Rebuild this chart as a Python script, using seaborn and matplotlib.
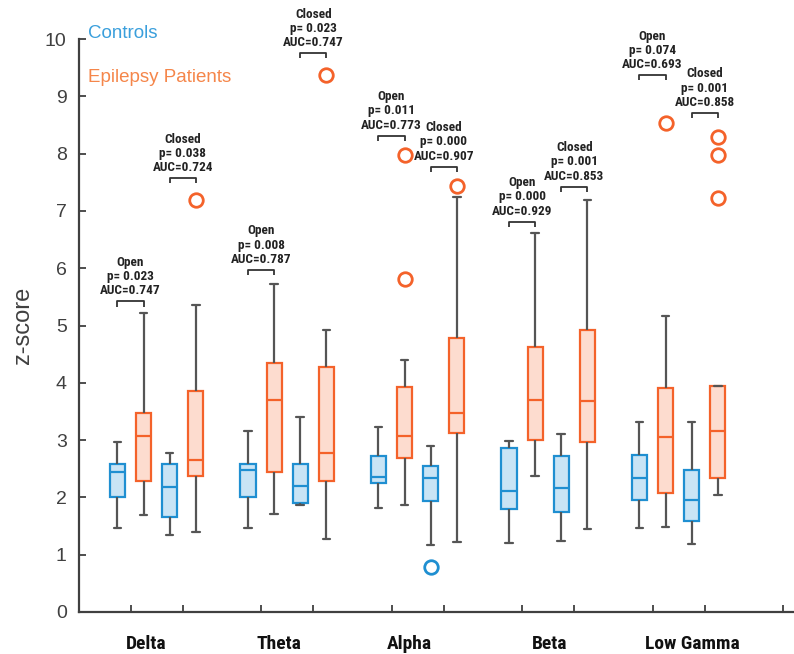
import numpy as np
import pandas as pd
import matplotlib
matplotlib.use("Agg")
import matplotlib.pyplot as plt
from matplotlib import font_manager
import seaborn as sns

# ---------------- data ----------------
bands = ["Delta", "Theta", "Alpha", "Beta", "Low Gamma"]

# five-number summaries per band: [low whisker, q1, median, q3, high whisker]
ctrl_open = [[1.46, 2.01, 2.45, 2.58, 2.96],
             [1.47, 2.00, 2.47, 2.58, 3.16],
             [1.82, 2.25, 2.36, 2.73, 3.23],
             [1.20, 1.79, 2.11, 2.87, 2.99],
             [1.46, 1.95, 2.34, 2.74, 3.31]]
pat_open = [[1.69, 2.29, 3.07, 3.47, 5.21],
            [1.71, 2.45, 3.70, 4.34, 5.72],
            [1.87, 2.69, 3.08, 3.93, 4.40],
            [2.37, 3.01, 3.70, 4.63, 6.61],
            [1.49, 2.07, 3.06, 3.91, 5.16]]
ctrl_closed = [[1.34, 1.66, 2.19, 2.58, 2.77],
               [1.86, 1.90, 2.20, 2.58, 3.41],
               [1.17, 1.93, 2.33, 2.55, 2.90],
               [1.24, 1.75, 2.17, 2.72, 3.11],
               [1.19, 1.58, 1.95, 2.48, 3.31]]
pat_closed = [[1.40, 2.37, 2.66, 3.86, 5.36],
              [1.27, 2.28, 2.78, 4.28, 4.93],
              [1.23, 3.12, 3.47, 4.79, 7.25],
              [1.44, 2.96, 3.69, 4.92, 7.19],
              [2.04, 2.33, 3.16, 3.94, 3.94]]

outlier_band = ["Alpha", "Alpha", "Alpha", "Low Gamma",
                "Delta", "Theta", "Alpha", "Low Gamma", "Low Gamma", "Low Gamma"]
outlier_series = ["ctrl_closed", "pat_open", "pat_open", "pat_open",
                  "pat_closed", "pat_closed", "pat_closed", "pat_closed", "pat_closed", "pat_closed"]
outlier_value = [0.79, 7.98, 5.82, 8.53, 7.19, 9.37, 7.43, 8.29, 7.97, 7.23]

open_p = ["0.023", "0.008", "0.011", "0.000", "0.074"]
open_auc = ["0.747", "0.787", "0.773", "0.929", "0.693"]
closed_p = ["0.038", "0.023", "0.000", "0.001", "0.001"]
closed_auc = ["0.724", "0.747", "0.907", "0.853", "0.858"]
open_bracket = [5.42, 5.97, 8.31, 6.81, 9.37]
closed_bracket = [7.57, 9.75, 7.77, 7.42, 8.71]

# ---------------- styling ----------------
BLUE_EDGE = "#1f8fd1"
BLUE_FILL = "#c9e4f5"
ORANGE_EDGE = "#f4622a"
ORANGE_FILL = "#fddccf"
WHISK = "#555555"
AXCOL = "#404040"

available = {f.name for f in font_manager.fontManager.ttflist}
narrow_cands = [n for n in ["Liberation Sans Narrow", "Arial Narrow", "Roboto Condensed",
                            "Open Sans Condensed", "DejaVu Sans Condensed"] if n in available]
narrow_cands += sorted(n for n in available if ("Narrow" in n or "Condensed" in n) and n not in narrow_cands)
narrow = narrow_cands[0] if narrow_cands else None
base = "Liberation Sans" if "Liberation Sans" in available else "DejaVu Sans"
is_narrow = narrow is not None and ("Narrow" in narrow or "Condensed" in narrow) and "DejaVu" not in narrow
ann_family = [narrow, "DejaVu Sans"] if is_narrow else [base, "DejaVu Sans"]
ann_size = 9.5 if is_narrow else 8.2
lab_size = 14 if is_narrow else 12.5

sns.set_style("white")
plt.rcParams["font.family"] = [base, "DejaVu Sans"]

series_order = ["ctrl_open", "pat_open", "ctrl_closed", "pat_closed"]
series_data = {"ctrl_open": ctrl_open, "pat_open": pat_open,
               "ctrl_closed": ctrl_closed, "pat_closed": pat_closed}
GROUP_STEP = 5

def pos(band, series):
    return bands.index(band) * GROUP_STEP + series_order.index(series)

rows = []
for s in series_order:
    for b, vals in zip(bands, series_data[s]):
        for v in vals:
            rows.append({"band": b, "series": s, "pos": pos(b, s), "value": v})
df = pd.DataFrame(rows)
df["group"] = np.where(df["series"].str.startswith("ctrl"), "Controls", "Patients")

out_df = pd.DataFrame({"band": outlier_band, "series": outlier_series, "value": outlier_value})
out_df["pos"] = [pos(b, s) for b, s in zip(out_df["band"], out_df["series"])]
out_df["group"] = np.where(out_df["series"].str.startswith("ctrl"), "Controls", "Patients")

fig = plt.figure(figsize=(7.94, 6.54), dpi=100)
ax = fig.add_axes([78.5 / 794, 1 - 612 / 654, 1 - 78.5 / 794, (612 - 39) / 654])

for grp, fc, ec in [("Controls", BLUE_FILL, BLUE_EDGE), ("Patients", ORANGE_FILL, ORANGE_EDGE)]:
    sub = df[df["group"] == grp]
    sns.boxplot(data=sub, x="pos", y="value", orient="x", native_scale=True,
                width=0.29, whis=(0, 100), color=fc, linecolor=ec, linewidth=1.6,
                showfliers=False, ax=ax,
                boxprops=dict(facecolor=fc, edgecolor=ec, linewidth=1.6),
                medianprops=dict(color=ec, linewidth=1.6),
                whiskerprops=dict(color=WHISK, linewidth=1.6),
                capprops=dict(color=WHISK, linewidth=1.6))
    osub = out_df[out_df["group"] == grp]
    sns.scatterplot(data=osub, x="pos", y="value", marker="o", s=95,
                    facecolor="white", edgecolor=ec, linewidth=2.0, ax=ax,
                    zorder=5, clip_on=False, legend=False)

# significance brackets and labels
leg = 0.09
for i, b in enumerate(bands):
    for cond, lvl, p, auc, (s1, s2) in [
        ("Open", open_bracket[i], open_p[i], open_auc[i], ("ctrl_open", "pat_open")),
        ("Closed", closed_bracket[i], closed_p[i], closed_auc[i], ("ctrl_closed", "pat_closed")),
    ]:
        x1, x2 = pos(b, s1), pos(b, s2)
        ax.plot([x1, x1, x2, x2], [lvl - leg, lvl, lvl, lvl - leg], color="#333333",
                lw=1.3, clip_on=False, solid_capstyle="butt")
        ax.annotate(f"{cond}\np= {p}\nAUC={auc}", xy=((x1 + x2) / 2, lvl),
                    xytext=(0, 3), textcoords="offset points", ha="center", va="bottom",
                    fontsize=ann_size, fontweight="bold", family=ann_family,
                    color="#222222", linespacing=1.12, annotation_clip=False)

# axes
ax.set_ylim(0, 10)
ax.set_yticks(range(0, 11))
ax.set_yticklabels([str(v) for v in range(0, 11)], fontsize=14, color=AXCOL)
pair_ticks = [g * GROUP_STEP + off for g in range(len(bands) + 1) for off in (0.5, 2.5)]
ax.set_xticks(pair_ticks)
ax.set_xticklabels([""] * len(pair_ticks))
ax.set_xlim(-1.494, 25.92)
ax.tick_params(axis="both", direction="in", length=5, width=1.3, color=AXCOL,
               bottom=True, left=True)
ax.tick_params(axis="y", pad=8.5)
for side in ["top", "right"]:
    ax.spines[side].set_visible(False)
for side in ["left", "bottom"]:
    ax.spines[side].set_color(AXCOL)
    ax.spines[side].set_linewidth(1.6)
ax.set_xlabel("")
ax.set_ylabel("z-score", fontsize=17, color=AXCOL, labelpad=8)

label_dx_px = [-10, -8.5, -8, 1, 14]
for i, b in enumerate(bands):
    ax.annotate(b, xy=(i * GROUP_STEP + 1.5, 0), xytext=(label_dx_px[i] * 0.72, -26.5),
                textcoords="offset points", ha="center", va="baseline",
                fontsize=lab_size, fontweight="bold",
                family=ann_family, color="#111111", annotation_clip=False)

fig.text(88 / 794, 1 - 33 / 654, "Controls", color="#3a9fdc", fontsize=13.5, ha="left", va="center")
fig.text(88 / 794, 1 - 78 / 654, "Epilepsy Patients", color="#f5864a", fontsize=13.5, ha="left", va="center")

fig.savefig("out.png", dpi=100)
